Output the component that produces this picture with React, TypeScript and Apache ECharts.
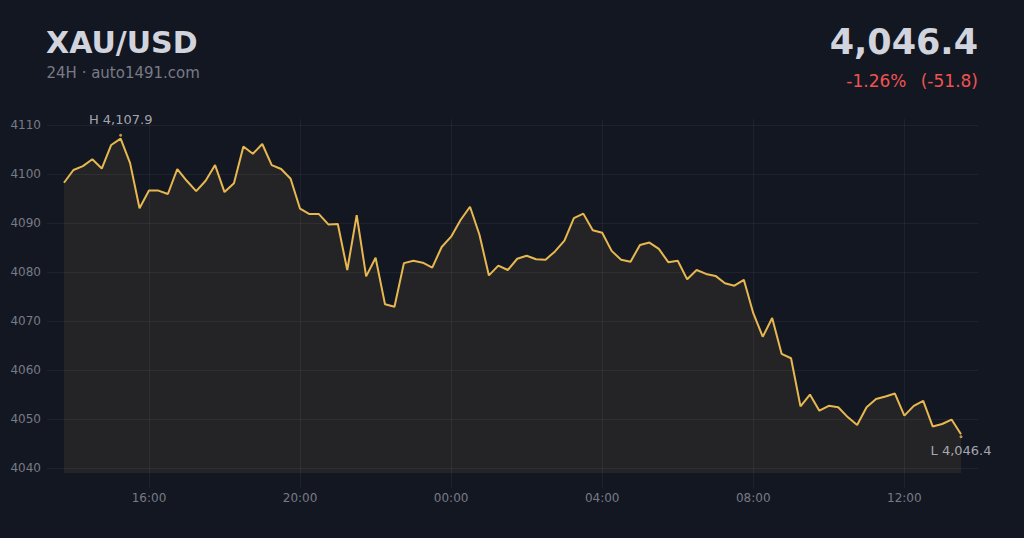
import React, { useEffect, useRef } from "react";
import * as echarts from "echarts";

// ---- data ----
const SYMBOL = "XAU/USD";
const SUBTITLE = "24H · auto1491.com";
const START_MINUTE = 13 * 60 + 45; // 13:45, first sample
const STEP_MINUTES = 15;
const PRICES: number[] = [
  4098.2, 4100.8, 4101.6, 4103.0, 4101.1, 4105.9, 4107.2, 4102.2, 4093.0, 4096.6,
  4096.6, 4095.9, 4101.0, 4098.6, 4096.5, 4098.6, 4101.8, 4096.3, 4098.1, 4105.6,
  4104.1, 4106.1, 4101.8, 4101.0, 4099.0, 4092.9, 4091.8, 4091.8, 4089.7, 4089.8,
  4080.4, 4091.6, 4079.1, 4082.9, 4073.4, 4072.9, 4081.8, 4082.3, 4081.9, 4080.9,
  4085.1, 4087.2, 4090.6, 4093.3, 4087.6, 4079.3, 4081.3, 4080.4, 4082.7, 4083.3,
  4082.6, 4082.5, 4084.2, 4086.4, 4091.0, 4091.9, 4088.5, 4088.0, 4084.3, 4082.5,
  4082.1, 4085.5, 4086.0, 4084.7, 4082.0, 4082.3, 4078.5, 4080.4, 4079.6, 4079.2,
  4077.7, 4077.2, 4078.4, 4071.6, 4066.8, 4070.6, 4063.3, 4062.4, 4052.6, 4055.0,
  4051.7, 4052.7, 4052.4, 4050.4, 4048.8, 4052.4, 4054.1, 4054.6, 4055.2, 4050.7,
  4052.7, 4053.7, 4048.5, 4049.0, 4049.9, 4046.9,
];
const HIGH = { index: 6, value: 4107.9 };
const LOW = { index: 95, value: 4046.4 };
const LAST_PRICE = 4046.4;
const OPEN_PRICE = 4098.2;
const X_TICKS = [16 * 60, 20 * 60, 24 * 60, 28 * 60, 32 * 60, 36 * 60];
const Y_TICKS = [4040, 4050, 4060, 4070, 4080, 4090, 4100, 4110];
const Y_MIN = 4039.0;
const Y_MAX = 4111.2;
const X_PAD_MINUTES = 27;

const BG = "#131722";
const LINE = "#e8b850";
const TEXT = "#d1d4dc";
const MUTED = "#787b86";
const RED = "#ef5350";
const FONT = "'DejaVu Sans', sans-serif";

const fmt = (v: number) =>
  v.toLocaleString("en-US", { minimumFractionDigits: 1, maximumFractionDigits: 1 });
const hhmm = (m: number) => {
  const h = Math.floor(m / 60) % 24;
  const mm = Math.round(m % 60);
  return String(h).padStart(2, "0") + ":" + String(mm).padStart(2, "0");
};

export default function App() {
  const ref = useRef<HTMLDivElement>(null);
  useEffect(() => {
    if (!ref.current) return;
    const chart = echarts.init(ref.current, undefined, { renderer: "svg" });
    const xOf = (i: number) => START_MINUTE + i * STEP_MINUTES;
    const lineData = PRICES.map((v, i) => [xOf(i), v]);
    const change = LAST_PRICE - OPEN_PRICE;
    const pct = (change / OPEN_PRICE) * 100;
    const pctText = (pct >= 0 ? "+" : "") + pct.toFixed(2) + "%";
    const absText = "(" + (change >= 0 ? "+" : "") + change.toFixed(1) + ")";

    chart.setOption({
      animation: false,
      backgroundColor: BG,
      grid: { left: 47, right: 46, top: 119, bottom: 65 },
      xAxis: {
        type: "value",
        min: START_MINUTE - X_PAD_MINUTES,
        max: xOf(PRICES.length - 1) + X_PAD_MINUTES,
        axisLine: { show: false },
        axisTick: {
          show: true,
          length: 15,
          customValues: X_TICKS,
          lineStyle: { color: "rgba(255,255,255,0.05)" },
        },
        axisLabel: {
          customValues: X_TICKS,
          formatter: (v: number) => hhmm(v),
          color: MUTED,
          fontSize: 12,
          fontFamily: FONT,
          margin: 19,
        },
        splitLine: { show: true, lineStyle: { color: "rgba(255,255,255,0.05)", width: 1 } },
      },
      yAxis: {
        type: "value",
        min: Y_MIN,
        max: Y_MAX,
        axisLine: { show: false },
        axisTick: { show: false, customValues: Y_TICKS },
        axisLabel: {
          customValues: Y_TICKS,
          formatter: (v: number) => String(Math.round(v)),
          color: MUTED,
          fontSize: 12,
          fontFamily: FONT,
          margin: 6,
        },
        splitLine: { show: true, lineStyle: { color: "rgba(255,255,255,0.05)", width: 1 } },
      },
      series: [
        {
          type: "line",
          data: lineData,
          showSymbol: false,
          symbol: "none",
          lineStyle: { color: LINE, width: 2 },
          areaStyle: { color: "rgba(232,184,80,0.115)" },
          silent: true,
          z: 2,
        },
        {
          type: "scatter",
          symbolSize: 3,
          itemStyle: { color: LINE },
          z: 3,
          data: [
            {
              value: [xOf(HIGH.index), HIGH.value],
              label: {
                show: true,
                position: "top",
                distance: 8,
                formatter: "H " + fmt(HIGH.value),
                color: "#c9ccd4",
                fontSize: 13,
                fontFamily: FONT,
              },
            },
            {
              value: [xOf(LOW.index), LOW.value],
              label: {
                show: true,
                position: "bottom",
                distance: 6,
                formatter: "L " + fmt(LOW.value),
                color: "#c9ccd4",
                fontSize: 13,
                fontFamily: FONT,
              },
            },
          ],
        },
      ],
      graphic: [
        {
          type: "text",
          x: 46,
          y: 42.2,
          style: { text: SYMBOL, fill: TEXT, font: "bold 30px " + FONT, align: "left", verticalAlign: "middle" },
        },
        {
          type: "text",
          x: 46.5,
          y: 72.8,
          style: { text: SUBTITLE, fill: MUTED, font: "15px " + FONT, align: "left", verticalAlign: "middle" },
        },
        {
          type: "text",
          x: 978,
          y: 42,
          style: { text: fmt(LAST_PRICE), fill: TEXT, font: "bold 35px " + FONT, align: "right", verticalAlign: "middle" },
        },
        {
          type: "text",
          x: 906.5,
          y: 80.5,
          style: { text: pctText, fill: RED, font: "17px " + FONT, align: "right", verticalAlign: "middle" },
        },
        {
          type: "text",
          x: 978,
          y: 80.5,
          style: { text: absText, fill: RED, font: "17px " + FONT, align: "right", verticalAlign: "middle" },
        },
      ],
    });
    return () => chart.dispose();
  }, []);
  return <div ref={ref} style={{ width: 1024, height: 538, position: "fixed", left: 0, top: 0 }} />;
}
